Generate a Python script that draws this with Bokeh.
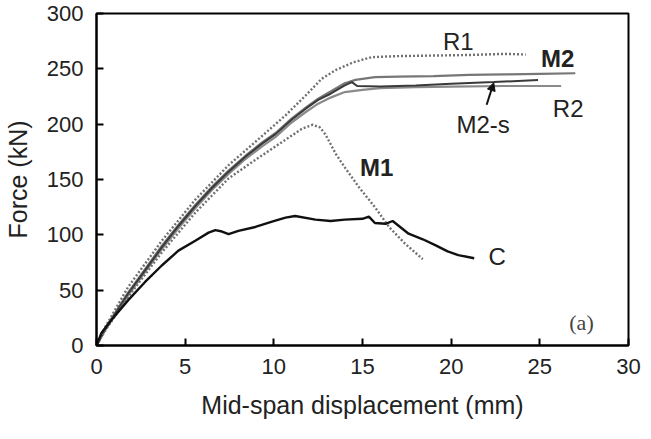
from bokeh.plotting import figure
from bokeh.models import Range1d, FixedTicker, Arrow, NormalHead, ColumnDataSource
from bokeh.core.properties import value
from bokeh.embed import file_html
from bokeh.resources import INLINE

# ---- data ----
c_x = [0, 0.28, 0.85, 1.79, 2.74, 3.68, 4.62, 5.57, 6.32, 6.7, 7.08, 7.45, 8.0, 8.96, 9.9,
       10.66, 11.2, 12.35, 13.2, 14.0, 15.0, 15.36, 15.7, 16.3, 16.7, 17.6, 18.4, 19.1,
       19.8, 20.4, 21.3]
c_y = [0, 11.3, 23.2, 41, 57.4, 72.3, 85.7, 94.6, 102, 104.2, 103, 100.6, 103.6, 107.1,
       111.9, 115.5, 117, 113.7, 112.5, 113.7, 114.5, 116.5, 110.7, 110, 112.5, 101, 96,
       90.7, 85, 81.7, 78.8]

m2_x = [0, 0.47, 1.79, 2.74, 3.68, 4.62, 5.57, 6.51, 7.45, 8.4, 9.34, 10.1, 11.0, 11.8,
        12.5, 13.2, 14.0, 14.6, 15.7, 17, 19, 21, 23, 25, 27]
m2_y = [0, 15, 48, 69, 90, 109, 127, 143.5, 158, 171.5, 183.5, 192, 205, 215, 223, 229.5,
        237, 240, 242.5, 243, 243.5, 244.5, 245, 245.5, 246]

m2s_x = [0, 0.47, 1.79, 2.74, 3.68, 4.62, 5.57, 6.51, 7.45, 8.4, 9.34, 10.1, 11.0, 11.8,
         12.5, 13.2, 14.0, 14.4, 14.7, 16, 18, 20, 22.4, 24.9]
m2s_y = [0, 14.3, 47, 67.9, 88.7, 108, 125.9, 142.3, 157.1, 170.5, 182.4, 191, 204, 214,
         222, 227.5, 235, 238, 234.5, 234, 235, 236.5, 238, 240]

r2_x = [0, 0.47, 1.79, 2.74, 3.68, 4.62, 5.57, 6.51, 7.45, 8.4, 9.34, 10.1, 11.0, 11.8,
        12.5, 13.2, 14.0, 15.0, 16.0, 18.0, 20.0, 23.0, 26.2]
r2_y = [0, 13.5, 45.5, 66.5, 87, 106, 124, 140.5, 155, 168.5, 180, 188.5, 201.5, 211,
        218.5, 224, 229, 231, 232.5, 233.5, 234, 234.5, 234.5]

r1_x = [0, 0.47, 1.79, 3.68, 5.57, 7.45, 8.96, 10.66, 11.8, 12.7, 13.5, 14.5, 15.5, 17,
        19, 21, 23, 24.2]
r1_y = [0, 16, 53, 94.6, 131.8, 163, 184, 208, 226, 241, 249, 256, 260.5, 261.5, 262,
        262.5, 263.5, 263]

m1_x = [0, 0.47, 1.79, 3.68, 5.57, 7.45, 8.8, 10.1, 11.04, 11.6, 12.2, 12.6, 12.9, 13.1,
        13.5, 14.0, 14.8, 15.7, 16.5, 17.4, 18.4]
m1_y = [0, 13, 44, 84, 120, 151, 166, 180, 190, 196, 199.5, 197, 191, 185, 173, 161, 143,
        125, 107, 92, 78]

label_text = ["R1", "M2", "R2", "M2-s", "M1", "C"]
label_x = [20.4, 26.0, 26.6, 21.8, 15.8, 22.6]
label_y = [275, 259, 214.5, 199.5, 161, 80]
label_bold = ["normal", "bold", "normal", "normal", "bold", "normal"]

arrow_start = (22.0, 217.5)
arrow_end = (22.4, 237.5)

panel_text = ["(a)"]
panel_x = [27.35]
panel_y = [20.5]

x_ticks = [0, 5, 10, 15, 20, 25, 30]
y_ticks = [0, 50, 100, 150, 200, 250, 300]

# ---- figure ----
p = figure(frame_width=532, frame_height=332, output_backend="svg",
           toolbar_location=None, x_range=Range1d(0, 30), y_range=Range1d(0, 300),
           min_border_left=93, min_border_right=15, min_border_top=13,
           min_border_bottom=78)
p.background_fill_color = "white"
p.border_fill_color = "white"
p.xgrid.visible = False
p.ygrid.visible = False
p.outline_line_color = "black"
p.outline_line_width = 2

for ax in (p.xaxis[0], p.yaxis[0]):
    ax.axis_line_width = 2
    ax.axis_line_color = "black"
    ax.major_tick_in = 7
    ax.major_tick_out = 0
    ax.major_tick_line_width = 2
    ax.minor_tick_line_color = None
    ax.major_label_text_font = "Liberation Sans"
    ax.major_label_text_font_size = "22px"
    ax.major_label_text_color = "#222222"
    ax.axis_label_text_font = "Liberation Sans"
    ax.axis_label_text_font_size = "25px"
    ax.axis_label_text_font_style = "normal"
    ax.axis_label_text_color = "#222222"

p.xaxis.ticker = FixedTicker(ticks=x_ticks)
p.yaxis.ticker = FixedTicker(ticks=y_ticks)
p.xaxis.major_label_standoff = 13
p.yaxis.major_label_standoff = 13
p.xaxis.axis_label = "Mid-span displacement (mm)"
p.yaxis.axis_label = "Force (kN)"
p.xaxis.axis_label_standoff = 14
p.yaxis.axis_label_standoff = 12

# curves
p.line(r2_x, r2_y, line_color="#8a8a8a", line_width=2.2)
p.line(m2_x, m2_y, line_color="#777777", line_width=2.2)
p.line(m2s_x, m2s_y, line_color="#3a3a3a", line_width=2.0)
p.line(r1_x, r1_y, line_color="#707070", line_width=2.4, line_dash="2 2")
p.line(m1_x, m1_y, line_color="#707070", line_width=2.4, line_dash="2 2")
p.line(c_x, c_y, line_color="#111111", line_width=2.4)

# labels
src = ColumnDataSource(dict(x=label_x, y=label_y, text=label_text, style=label_bold))
p.text(x="x", y="y", text="text", source=src, text_font=value("Liberation Sans"),
       text_font_size="24px", text_font_style="style", text_color="#222222",
       text_align="center", text_baseline="middle")
p.text(x=panel_x, y=panel_y, text=panel_text, text_font=value("Liberation Serif"),
       text_font_size="22px", text_color="#444444", text_align="center",
       text_baseline="middle")

p.add_layout(Arrow(end=NormalHead(size=8, fill_color="#111111", line_color="#111111"),
                   x_start=arrow_start[0], y_start=arrow_start[1],
                   x_end=arrow_end[0], y_end=arrow_end[1],
                   line_color="#111111", line_width=2))

open("out.html", "w").write(file_html(p, INLINE))
